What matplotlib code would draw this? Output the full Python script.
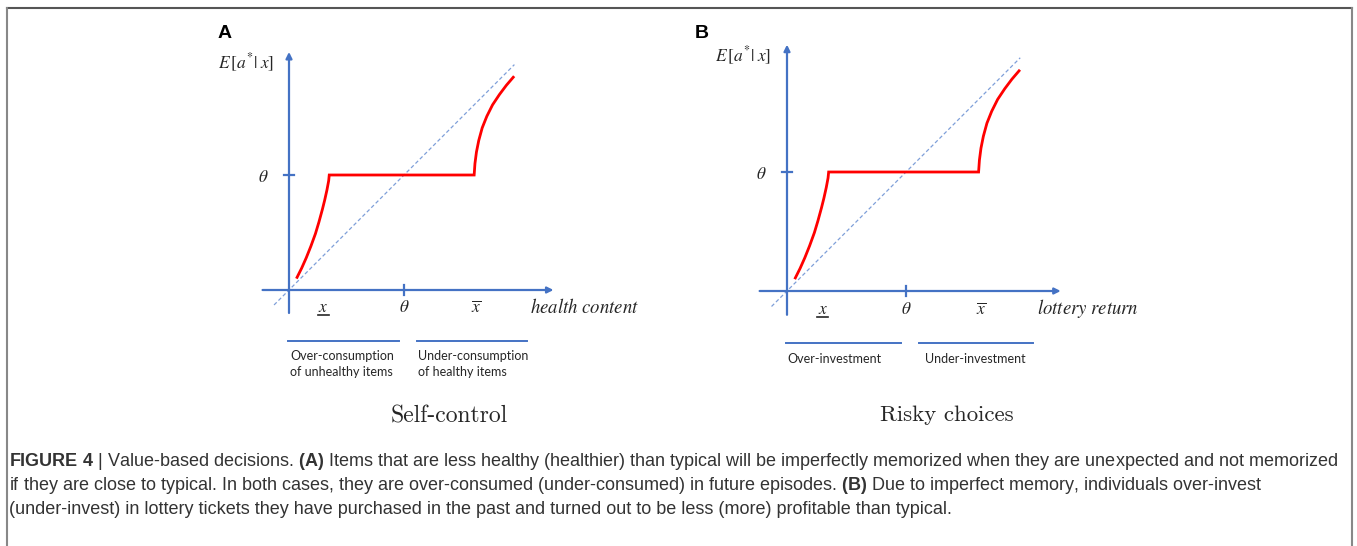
import matplotlib
matplotlib.use('Agg')
import matplotlib.pyplot as plt
from matplotlib.lines import Line2D

W, H = 1357, 546

# sketch values, in units of theta (theta = 1)
theta = 1.0
low_x = [0.07, 0.11, 0.15, 0.19, 0.23, 0.26, 0.29, 0.31, 0.33, 0.345, 0.35]
low_y = [0.11, 0.19, 0.28, 0.38, 0.49, 0.59, 0.70, 0.78, 0.87, 0.95, 1.00]
flat_x = [0.35, 1.61]
flat_y = [1.00, 1.00]
high_x = [1.61, 1.617, 1.63, 1.65, 1.68, 1.72, 1.77, 1.83, 1.89, 1.95]
high_y = [1.00, 1.10, 1.20, 1.30, 1.41, 1.51, 1.61, 1.70, 1.78, 1.85]
diag = [-0.13, 1.96]
x_low, x_high = 0.30, 1.63

panel_letters = ['A', 'B']
x_names = ['health content', 'lottery return']
left_notes = ['Over-consumption\nof unhealthy items', 'Over-investment']
right_notes = ['Under-consumption\nof healthy items', 'Under-investment']
titles = ['Self-control', 'Risky choices']

caption = [
    r'$\bf{FIGURE\ 4}$ | Value-based decisions. $\bf{(A)}$ Items that are less healthy (healthier) than typical will be imperfectly memorized when they are unexpected and not memorized',
    r'if they are close to typical. In both cases, they are over-consumed (under-consumed) in future episodes. $\bf{(B)}$ Due to imperfect memory, individuals over-invest',
    r'(under-invest) in lottery tickets they have purchased in the past and turned out to be less (more) profitable than typical.',
]

plt.rcParams['mathtext.fontset'] = 'stix'
plt.rcParams['mathtext.bf'] = 'Liberation Sans:bold'

blue = '#4472C4'
ink = '#262626'

fig = plt.figure(figsize=(W / 100, H / 100), dpi=100)

# frame around the figure
fig.add_artist(Line2D([7 / W, 1352 / W], [1 - 8 / H, 1 - 8 / H], color='#555555', lw=1.5))
fig.add_artist(Line2D([7 / W, 7 / W], [0, 1 - 8 / H], color='#888888', lw=1.5))
fig.add_artist(Line2D([1352 / W, 1352 / W], [0, 1 - 8 / H], color='#888888', lw=1.5))

# origin pixel, pixels per theta, letter pos, note x, title pos/size
layout = [
    dict(o=(289, 290), s=115, letter=(225, 33), nx=(0.01, 1.12), t=(1.39, -1.10), ts=17),
    dict(o=(787, 291), s=119, letter=(702, 33), nx=(0.0, 1.16), t=(1.34, -1.04), ts=16.5),
]

for i, lay in enumerate(layout):
    ox, oy = lay['o']
    s = lay['s']
    x0, x1, y0, y1 = -0.6, 3.0, -1.3, 2.3
    left = ox + x0 * s
    bottom = oy - y0 * s
    ax = fig.add_axes([left / W, 1 - bottom / H, (x1 - x0) * s / W, (y1 - y0) * s / H])
    ax.set_xlim(x0, x1)
    ax.set_ylim(y0, y1)
    ax.axis('off')

    arrow = dict(arrowstyle='-|>', color=blue, lw=1.6, mutation_scale=9, shrinkA=0, shrinkB=0)
    ax.annotate('', xy=(2.30, 0), xytext=(-0.23, 0), arrowprops=arrow)
    ax.annotate('', xy=(0, 2.07), xytext=(0, -0.20), arrowprops=arrow)
    ax.plot([theta, theta], [-0.045, 0.045], color=blue, lw=1.6)
    ax.plot([-0.045, 0.045], [theta, theta], color=blue, lw=1.6)

    ax.plot(diag, diag, color='#7F9FD9', lw=0.9, ls=(0, (3, 2)))
    ax.plot(low_x + flat_x + high_x, low_y + flat_y + high_y, color='#FF0000', lw=2.0,
            solid_joinstyle='miter')

    ax.text(-0.37, 1.98, r'$E\,[a^{*}|\;x]$', fontsize=12.5, color=ink, ha='center', va='center')
    ax.text(-0.22, theta - 0.02, r'$\theta$', fontsize=12.5, color=ink, ha='center', va='center')
    ax.text(x_low, -0.15, r'$x$', fontsize=12.5, color=ink, ha='center', va='center')
    ax.plot([x_low - 0.045, x_low + 0.045], [-0.215, -0.215], color=ink, lw=1.2)
    ax.text(theta, -0.15, r'$\theta$', fontsize=12.5, color=ink, ha='center', va='center')
    ax.text(x_high, -0.15, r'$\overline{x}$', fontsize=12.5, color=ink, ha='center', va='center')
    ax.text(2.10, -0.15, '$' + x_names[i].replace(' ', r'\ ') + '$', fontsize=13.5, color=ink,
            ha='left', va='center')

    ax.plot([-0.01, 0.96], [-0.44, -0.44], color=blue, lw=1.4)
    ax.plot([1.11, 2.07], [-0.44, -0.44], color=blue, lw=1.4)
    ax.text(lay['nx'][0], -0.52, left_notes[i], fontsize=9, family='Lato', color=ink,
            ha='left', va='top', linespacing=1.4)
    ax.text(lay['nx'][1], -0.52, right_notes[i], fontsize=9, family='Lato', color=ink,
            ha='left', va='top', linespacing=1.4)
    ax.text(lay['t'][0], lay['t'][1], titles[i], fontsize=lay['ts'], family='cmr10', color=ink,
            ha='center', va='center')

    lx, ly = lay['letter']
    fig.text(lx / W, 1 - ly / H, panel_letters[i], fontsize=14, fontweight='bold',
             family='Liberation Sans', color='black', ha='center', va='center')

for k, line in enumerate(caption):
    fig.text(9 / W, 1 - (461 + 24 * k) / H, line, fontsize=13, family='Liberation Sans',
             color='#333333', ha='left', va='center', math_fontfamily='custom')

fig.savefig('out.png', dpi=100)
